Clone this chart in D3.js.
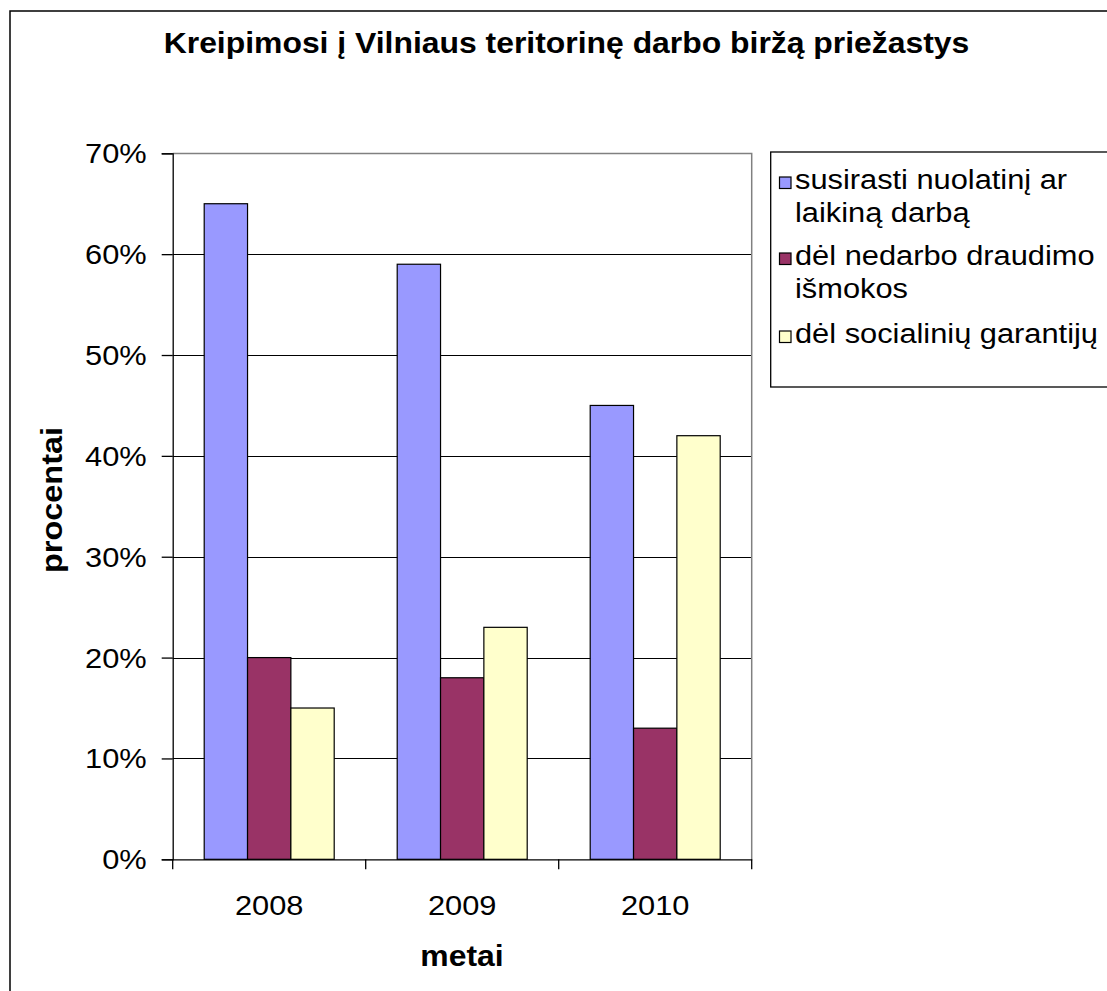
<!DOCTYPE html>
<html>
<head>
<meta charset="utf-8">
<script src="https://cdn.jsdelivr.net/npm/d3@7"></script>
<style>
  body { margin: 0; background: #fff; }
  text { font-family: "Liberation Sans", Arial, sans-serif; fill: #000; }
</style>
</head>
<body>
<svg id="chart" width="1107" height="991"></svg>
<script>
// chart data
const years = ["2008", "2009", "2010"];
const seriesNames = ["susirasti nuolatinį ar laikiną darbą", "dėl nedarbo draudimo išmokos", "dėl socialinių garantijų"];
const legendLines = [["susirasti nuolatinį ar", "laikiną darbą"], ["dėl nedarbo draudimo", "išmokos"], ["dėl socialinių garantijų"]];
const findWork = [65, 59, 45];
const insurance = [20, 18, 13];
const socialGuarantees = [15, 23, 42];
const yTicks = [0, 10, 20, 30, 40, 50, 60, 70];
const colors = ["#9999FF", "#993366", "#FFFFCC"];

const series = [findWork, insurance, socialGuarantees];

let svg = d3.select("#chart");

// the reference text is a bit wider than the font, stretch it horizontally
let sx = 1.1;

// outer chart frame (runs off the picture on right and bottom)
svg.append("rect")
  .attr("x", 10).attr("y", 11)
  .attr("width", 1300).attr("height", 1100)
  .attr("fill", "#fff")
  .attr("stroke", "#000")
  .attr("stroke-width", 1.5);

let plot = { left: 172.7, top: 153.3, right: 751.7, bottom: 859.3 };

let x0 = d3.scaleBand()
  .domain(years)
  .range([plot.left, plot.right]);

let x1 = d3.scaleBand()
  .domain(d3.range(series.length))
  .range([0, x0.bandwidth()])
  .paddingOuter(0.727);

let y = d3.scaleLinear()
  .domain([0, 70])
  .range([plot.bottom, plot.top]);

function addText(g, str, x, yy, opts) {
  opts = opts || {};
  return g.append("text")
    .attr("transform", `translate(${x},${yy}) ${opts.rotate ? "rotate(-90)" : ""} scale(${sx},1)`)
    .attr("text-anchor", opts.anchor || "start")
    .style("font-size", (opts.size || 28) + "px")
    .style("font-weight", opts.bold ? "bold" : "normal")
    .text(str);
}

// gridlines
svg.append("g").selectAll("line")
  .data(yTicks.filter(d => d > 0 && d < 70))
  .enter().append("line")
  .attr("x1", plot.left).attr("x2", plot.right)
  .attr("y1", d => Math.round(y(d)) + 0.5).attr("y2", d => Math.round(y(d)) + 0.5)
  .attr("stroke", "#000");

// plot border top + right in gray
svg.append("path")
  .attr("d", `M${plot.left},${Math.round(plot.top) + 0.5}H${plot.right}V${plot.bottom}`)
  .attr("fill", "none")
  .attr("stroke", "#808080")
  .attr("stroke-width", 1.5);

// bars
let groups = svg.append("g").selectAll("g")
  .data(years)
  .enter().append("g")
  .attr("transform", d => `translate(${x0(d)},0)`);

groups.selectAll("rect")
  .data((d, i) => series.map((s, k) => ({ k: k, v: s[i] })))
  .enter().append("rect")
  .attr("x", d => x1(d.k))
  .attr("width", x1.bandwidth())
  .attr("y", d => y(d.v))
  .attr("height", d => plot.bottom - y(d.v))
  .attr("fill", d => colors[d.k])
  .attr("stroke", "#000")
  .attr("stroke-width", 1.2);

// y axis
let yAxis = svg.append("g")
  .attr("transform", `translate(${plot.left},0)`)
  .call(d3.axisLeft(y).tickValues(yTicks).tickSize(11).tickFormat(""));
yAxis.selectAll("path, line").attr("stroke", "#000").attr("stroke-width", 1.3);

yTicks.forEach(t => addText(svg, t + "%", 146.7, y(t) + 10, { anchor: "end" }));

// x axis
let xAxis = svg.append("g")
  .attr("transform", `translate(0,${plot.bottom})`)
  .call(d3.axisBottom(x0).tickSize(0).tickFormat(""));
xAxis.select(".domain").attr("stroke", "#000").attr("stroke-width", 1.3);
xAxis.selectAll(".tick").remove();

let boundaries = years.map(d => x0(d)).concat([plot.right]);
svg.append("g").selectAll("line")
  .data(boundaries)
  .enter().append("line")
  .attr("x1", d => d).attr("x2", d => d)
  .attr("y1", plot.bottom).attr("y2", plot.bottom + 10)
  .attr("stroke", "#000").attr("stroke-width", 1.3);

years.forEach(yr => addText(svg, yr, x0(yr) + x0.bandwidth() / 2, 915, { anchor: "middle" }));

// titles
addText(svg, "Kreipimosi į Vilniaus teritorinę darbo biržą priežastys", 566.5, 52.5, { anchor: "middle", bold: true, size: 29 });
addText(svg, "metai", 462, 966, { anchor: "middle", bold: true, size: 29 });
addText(svg, "procentai", 62, 500, { anchor: "middle", bold: true, size: 29.5, rotate: true });

// legend
let legend = svg.append("g");
legend.append("rect")
  .attr("x", 770.7).attr("y", 152)
  .attr("width", 400).attr("height", 235)
  .attr("fill", "#fff")
  .attr("stroke", "#000")
  .attr("stroke-width", 1.3);

let legendBase = [189, 265, 343];
let lineGap = 33;
seriesNames.forEach((name, i) => {
  legend.append("rect")
    .attr("x", 779.5).attr("y", legendBase[i] - 12)
    .attr("width", 11.5).attr("height", 11.5)
    .attr("fill", colors[i])
    .attr("stroke", "#000")
    .attr("stroke-width", 1.2);
  legendLines[i].forEach((ln, j) => addText(legend, ln, 795, legendBase[i] + j * lineGap));
});
</script>
</body>
</html>
